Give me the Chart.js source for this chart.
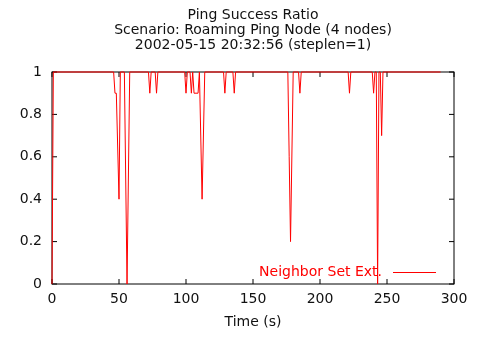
<!DOCTYPE html>
<html>
<head>
<meta charset="utf-8">
<script src="https://cdn.jsdelivr.net/npm/chart.js@4/dist/chart.umd.min.js"></script>
<style>
  html, body { margin: 0; padding: 0; background: #fff; }
  #wrap { width: 483px; height: 339px; }
</style>
</head>
<body>
<div id="wrap"><canvas id="grafico"></canvas></div>
<script>
const tituloLinhas = [
  'Ping Success Ratio',
  'Scenario: Roaming Ping Node (4 nodes)',
  '2002-05-15 20:32:56 (steplen=1)'
];
const rotuloSerie = 'Neighbor Set Ext.';
const rotuloEixoX = 'Time (s)';

// breakpoints of the line (time in s, success ratio)
const tempos = [
  0, 1,
  46, 47, 48, 50, 51,
  54, 56, 58,
  72, 73, 74,
  77, 78, 79,
  99, 100, 101,
  103, 104, 105, 106, 109, 110, 112, 114,
  128, 129, 130,
  135, 136, 137,
  176, 177, 178, 180,
  184, 185, 186,
  221, 222, 223,
  239, 240, 241,
  242, 243, 244,
  245, 246, 247,
  290
];
const razoes = [
  0, 1,
  1, 0.9, 0.9, 0.4, 1,
  1, 0, 1,
  1, 0.9, 1,
  1, 0.9, 1,
  1, 0.9, 1,
  1, 0.9, 1, 0.9, 0.9, 1, 0.4, 1,
  1, 0.9, 1,
  1, 0.9, 1,
  1, 0.6, 0.2, 1,
  1, 0.9, 1,
  1, 0.9, 1,
  1, 0.9, 1,
  1, 0, 1,
  1, 0.7, 1,
  1
];

const xMin = 0, xMax = 300, xPasso = 50;
const yMin = 0, yMax = 1, yPasso = 0.2;

const fonte = { family: '"DejaVu Sans", sans-serif', size: 14 };
const corTexto = '#111';

// gnuplot-like frame with inward ticks on all four sides
const molduraPlugin = {
  id: 'moldura',
  beforeDatasetsDraw(chart) {
    const { ctx, chartArea: a, scales } = chart;
    const tam = 5;
    ctx.save();
    ctx.strokeStyle = '#000';
    ctx.lineWidth = 1;
    ctx.strokeRect(a.left, a.top, a.right - a.left, a.bottom - a.top);
    ctx.beginPath();
    scales.x.ticks.forEach(t => {
      const px = scales.x.getPixelForValue(t.value);
      ctx.moveTo(px, a.bottom); ctx.lineTo(px, a.bottom - tam);
      ctx.moveTo(px, a.top); ctx.lineTo(px, a.top + tam);
    });
    scales.y.ticks.forEach(t => {
      const py = scales.y.getPixelForValue(t.value);
      ctx.moveTo(a.left, py); ctx.lineTo(a.left + tam, py);
      ctx.moveTo(a.right, py); ctx.lineTo(a.right - tam, py);
    });
    ctx.stroke();
    ctx.restore();
  }
};

// legend inside the plot, bottom right, text right-aligned before the sample line
const legendaPlugin = {
  id: 'legendaGnuplot',
  afterDatasetsDraw(chart) {
    const { ctx, chartArea: a } = chart;
    const ds = chart.data.datasets[0];
    const y = Math.round(a.bottom - 12) + 0.5;
    const xLinha = Math.round(a.right - 61);
    ctx.save();
    ctx.font = `${fonte.size}px ${fonte.family}`;
    ctx.fillStyle = ds.borderColor;
    ctx.textAlign = 'right';
    ctx.textBaseline = 'middle';
    ctx.fillText(ds.label, xLinha - 11, y);
    ctx.strokeStyle = ds.borderColor;
    ctx.lineWidth = 1;
    ctx.beginPath();
    ctx.moveTo(xLinha, y);
    ctx.lineTo(xLinha + 43, y);
    ctx.stroke();
    ctx.restore();
  }
};

const pontos = tempos.map((t, i) => ({ x: t, y: razoes[i] }));

const ctx = document.getElementById('grafico').getContext('2d');
const chart = new Chart(ctx, {
  type: 'line',
  data: {
    datasets: [{
      label: rotuloSerie,
      data: pontos,
      borderColor: '#ff0000',
      borderWidth: 1,
      pointRadius: 0,
      tension: 0,
      clip: 2
    }]
  },
  options: {
    responsive: true,
    maintainAspectRatio: false,
    animation: false,
    devicePixelRatio: 1,
    layout: { padding: { left: 0, right: 29, top: 0, bottom: 0 } },
    plugins: {
      legend: { display: false },
      tooltip: { enabled: false },
      title: {
        display: true,
        fullSize: false,
        text: tituloLinhas,
        color: corTexto,
        font: { ...fonte, weight: 'normal', lineHeight: 15 / 14 },
        padding: { top: 7.5, bottom: 19.5 }
      }
    },
    scales: {
      x: {
        type: 'linear',
        min: xMin,
        max: xMax,
        grid: { display: false, drawTicks: false },
        border: { display: false },
        ticks: { stepSize: xPasso, color: corTexto, font: fonte, padding: 7, maxRotation: 0 },
        title: { display: true, text: rotuloEixoX, color: corTexto, font: fonte, padding: { top: 0, bottom: 8 } },
        afterFit: s => { s.height = 55; }
      },
      y: {
        min: yMin,
        max: yMax,
        grid: { display: false, drawTicks: false },
        border: { display: false },
        ticks: {
          stepSize: yPasso, color: corTexto, font: fonte, padding: 10,
          callback: v => String(+v.toFixed(2))
        },
        afterFit: s => { s.width = 52; }
      }
    }
  },
  plugins: [molduraPlugin, legendaPlugin]
});
</script>
</body>
</html>
